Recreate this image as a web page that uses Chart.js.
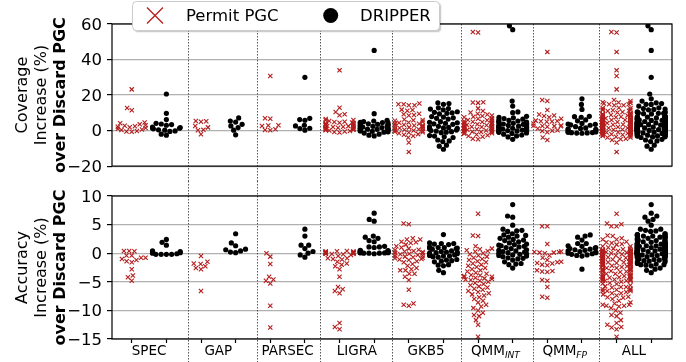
<!DOCTYPE html>
<html><head><meta charset="utf-8">
<script src="https://cdn.jsdelivr.net/npm/chart.js@4"></script>
<style>
html,body{margin:0;padding:0;background:#fff;}
#wrap{position:relative;width:686px;height:362px;overflow:hidden;}
canvas{position:absolute;left:0;}
#c1{top:0;} #c2{top:181px;}
</style></head><body>
<div id="wrap"><canvas id="c1" width="686" height="181"></canvas><canvas id="c2" width="686" height="181"></canvas></div>
<script>
// ---------------- data ----------------
const categories = ['SPEC','GAP','PARSEC','LIGRA','GKB5','QMM_INT','QMM_FP','ALL'];
const labelMain = ['SPEC','GAP','PARSEC','LIGRA','GKB5','QMM','QMM','ALL'];
const labelSub  = ['','','','','','INT','FP',''];
const seriesNames = ['Permit PGC','DRIPPER'];
const covTicks = [-20,0,20,40,60];
const accTicks = [-15,-10,-5,0,5,10];
const covTitle = ['Coverage','Increase (%)','over Discard PGC'];
const accTitle = ['Accuracy','Increase (%)','over Discard PGC'];

// Coverage increase (%) - Permit PGC
const covPermitSpec = [23.2, 12.7, 11.4, 4.5, 4.1, 3.5, 3.0, 2.7, 2.4, 2.1, 1.9, 1.5, 1.0, 0.6, 0.3, -0.2, -0.5, -0.7];
const covPermitGap = [5.4, 5.3, 5.0, 2.6, 1.8, 0.4, 0.2, -2.1];
const covPermitParsec = [30.7, 6.9, 6.7, 3.0, 2.8, 2.6, 0.7, 0.3, 0.2];
const covPermitLigra = [33.9, 12.9, 10.5, 9.2, 8.6, 6.5, 6.0, 5.8, 5.4, 5.0, 4.8, 4.5, 4.4, 4.2, 4.0, 3.8, 3.6, 3.5, 3.3, 3.1, 3.0, 2.8, 2.6, 2.5, 2.3, 2.2, 2.0, 1.8, 1.6, 1.4, 1.2, 1.0, 0.9, 0.7, 0.6, 0.4, 0.2, 0.0, -0.2, -0.5, -0.8, -1.1];
const covPermitGkb5 = [15.3, 14.8, 14.8, 14.2, 14.2, 11.8, 11.6, 11.2, 9.5, 9.2, 8.8, 8.5, 6.2, 6.0, 5.8, 5.5, 5.0, 4.6, 4.4, 4.0, 3.8, 3.5, 3.3, 3.0, 2.8, 2.5, 2.3, 2.0, 1.8, 1.5, 1.2, 1.0, 0.8, 0.5, 0.3, 0.0, -0.3, -0.6, -0.9, -1.1, -1.5, -2.0, -2.3, -3.0, -3.9, -6.7, -12.0];
const covPermitQmmInt = [55.5, 55.2, 16.0, 15.8, 15.6, 12.5, 11.0, 10.2, 9.5, 9.0, 8.5, 8.2, 7.8, 7.5, 7.0, 6.6, 6.3, 6.0, 5.8, 5.5, 5.3, 5.0, 4.8, 4.6, 4.4, 4.2, 4.0, 3.8, 3.6, 3.4, 3.2, 3.0, 2.8, 2.6, 2.4, 2.2, 2.0, 1.9, 1.8, 1.6, 1.4, 1.2, 1.0, 0.9, 0.8, 0.6, 0.4, 0.2, 0.1, 0.0, -0.2, -0.4, -0.6, -0.8, -1.0, -1.2, -1.5, -1.8, -2.2, -2.6, -3.0, -3.5, -4.6, -4.9];
const covPermitQmmFp = [44.3, 17.2, 16.6, 11.6, 9.1, 8.5, 8.2, 7.5, 6.7, 5.6, 5.4, 5.3, 5.1, 5.0, 4.0, 2.9, 2.7, 2.6, 2.5, 2.4, 2.2, 1.2, 0.2, -0.1, -0.3, -1.0, -3.9, -5.3];
// Coverage increase (%) - DRIPPER
const covDripperSpec = [20.6, 9.7, 6.2, 4.1, 3.7, 3.4, 3.0, 2.0, 1.7, 1.5, 1.3, 1.0, 0.4, 0.2, -0.2, -0.5, -2.0, -2.6];
const covDripperGap = [7.1, 5.4, 4.8, 3.5, 2.6, 1.7, 0.2, -2.4];
const covDripperParsec = [30.0, 6.9, 6.2, 5.8, 3.0, 2.6, 1.3, 1.1, 0.2];
const covDripperLigra = [45.1, 9.5, 5.8, 5.4, 5.0, 4.6, 4.5, 4.3, 4.0, 3.8, 3.5, 3.3, 3.0, 2.8, 2.6, 2.4, 2.2, 2.0, 1.8, 1.7, 1.5, 1.3, 1.1, 1.0, 0.8, 0.7, 0.5, 0.3, 0.2, 0.0, -0.2, -0.4, -0.7, -0.9, -1.4, -2.0, -2.6, -3.0];
const covDripperGkb5 = [15.6, 15.2, 14.8, 12.8, 12.4, 12.1, 11.7, 10.6, 10.3, 10.0, 9.7, 9.4, 7.9, 7.6, 7.2, 6.9, 6.5, 5.0, 4.7, 4.4, 4.1, 3.8, 3.5, 2.4, 2.1, 1.8, 1.5, 1.2, 0.9, 0.3, 0.0, -0.3, -0.6, -0.9, -1.2, -2.8, -3.1, -3.5, -3.9, -5.3, -5.8, -6.2, -8.2, -8.8, -10.5];
const covDripperQmmInt = [59.0, 56.8, 16.6, 13.8, 10.5, 10.1, 8.0, 7.5, 7.2, 6.8, 6.4, 6.0, 5.7, 5.4, 5.1, 4.8, 4.5, 4.3, 4.1, 3.9, 3.7, 3.5, 3.3, 3.1, 2.9, 2.7, 2.5, 2.3, 2.1, 1.9, 1.7, 1.5, 1.3, 1.1, 0.9, 0.7, 0.5, 0.3, 0.1, 0.0, -0.2, -0.4, -0.6, -0.8, -1.0, -1.3, -1.6, -2.0, -2.5, -3.0, -3.6, -4.9];
const covDripperQmmFp = [17.9, 14.7, 11.9, 8.0, 7.8, 7.5, 6.0, 5.5, 4.0, 3.7, 3.5, 3.2, 3.0, 2.2, 1.5, 1.2, 0.9, 0.7, 0.5, 0.2, -0.5, -0.8, -1.0, -1.1, -1.2, -1.3, -1.4, -1.5];

// Accuracy increase (%) - Permit PGC
const accPermitSpec = [0.4, 0.4, 0.35, -0.4, -0.4, -0.8, -0.8, -1.0, -1.2, -1.4, -1.6, -2.8, -3.9, -4.2, -4.8];
const accPermitGap = [-0.5, -1.5, -1.8, -1.9, -2.3, -2.6, -2.8, -6.6];
const accPermitParsec = [0.0, -0.6, -1.9, -4.1, -4.6, -4.8, -5.3, -9.2, -13.0];
const accPermitLigra = [0.4, 0.35, 0.3, 0.3, 0.25, 0.2, 0.2, 0.15, 0.1, 0.1, 0.05, 0.0, 0.0, 0.0, -0.05, -0.1, -0.1, -0.15, -0.2, -0.3, -0.5, -0.9, -0.9, -1.0, -1.1, -1.5, -1.8, -2.0, -2.3, -2.8, -4.1, -5.9, -6.3, -6.6, -7.0, -12.2, -12.9, -13.3];
const accPermitGkb5 = [5.2, 5.05, 2.6, 2.4, 2.4, 2.0, 1.9, 1.8, 1.5, 1.2, 1.0, 0.8, 0.6, 0.5, 0.4, 0.3, 0.2, 0.1, 0.0, 0.0, -0.1, -0.2, -0.3, -0.4, -0.5, -0.6, -0.7, -0.8, -0.9, -1.0, -1.1, -1.2, -1.4, -1.6, -1.9, -2.2, -2.6, -2.8, -3.0, -3.0, -3.6, -3.6, -4.1, -4.7, -6.4, -8.8, -9.0, -9.2];
const accPermitQmmInt = [6.9, 3.1, 3.0, 1.2, 0.8, 0.7, 0.5, 0.4, 0.3, 0.0, -0.2, -0.4, -0.6, -0.8, -1.0, -1.2, -1.4, -1.6, -1.8, -2.0, -2.2, -2.4, -2.6, -2.8, -3.0, -3.2, -3.4, -3.6, -3.8, -3.9, -4.0, -4.1, -4.2, -4.3, -4.4, -4.5, -4.6, -4.7, -4.8, -5.0, -5.2, -5.4, -5.6, -5.8, -6.0, -6.2, -6.4, -6.6, -6.8, -7.0, -7.2, -7.4, -7.7, -8.0, -8.3, -8.6, -9.0, -9.3, -9.6, -10.0, -10.4, -10.8, -11.0, -11.7, -12.5, -14.6];
const accPermitQmmFp = [4.7, 4.7, 1.6, 0.3, 0.2, 0.2, 0.1, 0.1, 0.0, -0.4, -0.8, -1.2, -1.5, -1.6, -1.7, -1.8, -2.0, -2.1, -3.0, -3.1, -3.2, -3.3, -4.7, -4.8, -5.9, -7.6, -7.8];
// Accuracy increase (%) - DRIPPER
const accDripperSpec = [2.4, 1.9, 1.4, 0.4, 0.3, 0.3, 0.1, 0.0, -0.2, -0.2, -0.2, -0.2, -0.1];
const accDripperGap = [3.4, 1.8, 1.3, 0.7, 0.6, 0.4, 0.2, 0.1];
const accDripperParsec = [4.2, 3.0, 1.4, 1.4, 0.8, 0.3, 0.0, -0.3, -0.7];
const accDripperLigra = [7.0, 5.9, 5.6, 3.0, 2.8, 2.6, 2.2, 2.0, 1.2, 1.1, 1.1, 1.0, 0.5, 0.45, 0.4, 0.35, 0.3, 0.3, 0.25, 0.2, 0.2, 0.15, 0.1, 0.1, 0.1, 0.05, 0.0, 0.0, 0.0, -0.1];
const accDripperGkb5 = [3.25, 1.8, 1.7, 1.7, 1.6, 1.5, 1.1, 1.0, 1.0, 0.9, 0.9, 0.8, 0.7, 0.4, 0.3, 0.2, 0.2, 0.1, 0.0, -0.1, -0.3, -0.4, -0.5, -0.5, -0.6, -0.7, -1.1, -1.2, -1.3, -1.4, -1.5, -2.0, -2.1, -2.2, -3.0, -3.4];
const accDripperQmmInt = [8.5, 6.5, 6.3, 4.9, 4.2, 4.0, 3.9, 3.8, 3.4, 3.2, 3.1, 3.0, 2.8, 2.6, 2.4, 2.3, 2.2, 2.0, 1.8, 1.6, 1.5, 1.4, 1.3, 1.2, 1.1, 1.0, 0.8, 0.6, 0.5, 0.4, 0.3, 0.2, 0.1, 0.0, -0.1, -0.2, -0.3, -0.4, -0.5, -0.6, -0.8, -0.9, -1.0, -1.2, -1.5, -1.8, -1.9, -2.0, -2.6];
const accDripperQmmFp = [3.2, 3.0, 2.8, 2.3, 1.7, 1.7, 1.3, 1.2, 1.0, 0.9, 0.8, 0.7, 0.6, 0.5, 0.4, 0.3, 0.2, 0.1, 0.0, -0.1, -0.2, -0.3, -0.4, -0.5, -2.8];

// "ALL" is the union of every suite
const covPermitAll = [].concat(covPermitSpec, covPermitGap, covPermitParsec, covPermitLigra, covPermitGkb5, covPermitQmmInt, covPermitQmmFp);
const covDripperAll = [].concat(covDripperSpec, covDripperGap, covDripperParsec, covDripperLigra, covDripperGkb5, covDripperQmmInt, covDripperQmmFp);
const accPermitAll = [].concat(accPermitSpec, accPermitGap, accPermitParsec, accPermitLigra, accPermitGkb5, accPermitQmmInt, accPermitQmmFp);
const accDripperAll = [].concat(accDripperSpec, accDripperGap, accDripperParsec, accDripperLigra, accDripperGkb5, accDripperQmmInt, accDripperQmmFp);

const covPermit = [covPermitSpec, covPermitGap, covPermitParsec, covPermitLigra, covPermitGkb5, covPermitQmmInt, covPermitQmmFp, covPermitAll];
const covDripper = [covDripperSpec, covDripperGap, covDripperParsec, covDripperLigra, covDripperGkb5, covDripperQmmInt, covDripperQmmFp, covDripperAll];
const accPermit = [accPermitSpec, accPermitGap, accPermitParsec, accPermitLigra, accPermitGkb5, accPermitQmmInt, accPermitQmmFp, accPermitAll];
const accDripper = [accDripperSpec, accDripperGap, accDripperParsec, accDripperLigra, accDripperGkb5, accDripperQmmInt, accDripperQmmFp, accDripperAll];

// ---------------- layout / style ----------------
const FONT = "'DejaVu Sans', 'Liberation Sans', sans-serif";
const RED = '#b41e1e';
const DIAM = 5.0;            // swarm collision diameter (px)
const HALF_WIDTH = 0.4;      // swarm half width (axis units)
const separatorPositions = [1.63, 3.61, 5.44, 7.51, 9.5, 11.6, 13.5];
const X_MIN = -0.57, X_MAX = 15.6;

function fmt(v){ return v < 0 ? '\u2212' + Math.abs(v) : String(v); }

function toPoints(groups, side){
  return groups.flatMap((vals, k) => vals.map(v => ({x: 2*k + side, y: v, g: k})));
}

function beeswarm(py, d, halfPx){
  const n = py.length;
  const order = [...Array(n).keys()].sort((a,b) => py[b] - py[a]);
  const placed = [];
  const off = new Array(n).fill(0);
  for (const i of order){
    const y = py[i];
    const nb = placed.filter(p => Math.abs(p.y - y) < d);
    const cands = [[0,0]];
    let leftFirst = true, k = 1;
    for (const p of nb){
      const dx = Math.sqrt(Math.max(d*d - (y - p.y)**2, 0)) * 1.05;
      const cl = p.x - dx, cr = p.x + dx;
      if (leftFirst){ cands.push([cl,k++],[cr,k++]); } else { cands.push([cr,k++],[cl,k++]); }
      leftFirst = !leftFirst;
    }
    cands.sort((a,b) => (Math.abs(a[0]) - Math.abs(b[0])) || (a[1] - b[1]));
    let x = 0;
    for (const [c] of cands){
      let ok = true;
      for (const p of nb){ if ((p.x - c)**2 + (p.y - y)**2 < d*d*0.999){ ok = false; break; } }
      if (ok){ x = c; break; }
    }
    placed.push({x, y});
    off[i] = x;
  }
  return off.map(o => Math.max(-halfPx, Math.min(halfPx, o)));
}

function applySwarm(chart){
  const xs = chart.scales.x, ys = chart.scales.y;
  const unit = xs.getPixelForValue(1) - xs.getPixelForValue(0);
  const halfPx = HALF_WIDTH * unit;
  chart.data.datasets.forEach((ds, side) => {
    const groups = {};
    ds.data.forEach((p, i) => { (groups[p.g] = groups[p.g] || []).push(i); });
    Object.values(groups).forEach(idxs => {
      const py = idxs.map(i => ys.getPixelForValue(ds.data[i].y));
      const off = beeswarm(py, DIAM, halfPx);
      idxs.forEach((i, j) => { ds.data[i].x = 2*ds.data[i].g + side + off[j]/unit; });
    });
  });
  chart.update('none');
}

function drawTitle(ctx, lines, yc){
  const xs = [26.5, 45.5, 65];
  lines.forEach((t, i) => {
    ctx.save();
    ctx.translate(xs[i], yc);
    ctx.rotate(-Math.PI/2);
    ctx.font = (i === 2 ? 'bold ' : '') + '16px ' + FONT;
    ctx.fillStyle = '#000';
    ctx.textAlign = 'center';
    ctx.textBaseline = 'alphabetic';
    ctx.fillText(t, 0, 0);
    ctx.restore();
  });
}

function drawLegend(ctx){
  const x0 = 132.5, y0 = 1.5, w = 307, h = 29, r = 4;
  ctx.save();
  ctx.shadowColor = 'rgba(0,0,0,0.25)';
  ctx.shadowOffsetX = 1.5; ctx.shadowOffsetY = 1.5; ctx.shadowBlur = 1.5;
  ctx.beginPath();
  ctx.roundRect(x0, y0, w, h, r);
  ctx.fillStyle = '#fff';
  ctx.fill();
  ctx.restore();
  ctx.save();
  ctx.beginPath();
  ctx.roundRect(x0, y0, w, h, r);
  ctx.strokeStyle = '#cccccc'; ctx.lineWidth = 1;
  ctx.stroke();
  const cy = 15.5;
  ctx.strokeStyle = RED; ctx.lineWidth = 1.3;
  ctx.beginPath();
  ctx.moveTo(147, cy - 8); ctx.lineTo(163, cy + 8);
  ctx.moveTo(147, cy + 8); ctx.lineTo(163, cy - 8);
  ctx.stroke();
  ctx.fillStyle = '#000';
  ctx.beginPath(); ctx.arc(330.7, cy, 7.5, 0, Math.PI*2); ctx.fill();
  ctx.font = '16.5px ' + FONT;
  ctx.textBaseline = 'middle'; ctx.textAlign = 'left';
  ctx.fillText(seriesNames[0], 186, cy + 1);
  ctx.fillText(seriesNames[1], 360, cy + 1);
  ctx.restore();
}

function drawCategoryLabels(chart){
  const ctx = chart.ctx, xs = chart.scales.x;
  const base = 174;
  ctx.save();
  ctx.fillStyle = '#000';
  ctx.textBaseline = 'alphabetic';
  categories.forEach((c, k) => {
    const cx = xs.getPixelForValue(2*k + 0.5);
    ctx.font = '13.5px ' + FONT;
    const wMain = ctx.measureText(labelMain[k]).width;
    let wSub = 0;
    if (labelSub[k]){ ctx.font = 'italic 9px ' + FONT; wSub = ctx.measureText(labelSub[k]).width; }
    const start = cx - (wMain + wSub)/2;
    ctx.font = '13.5px ' + FONT; ctx.textAlign = 'left';
    ctx.fillText(labelMain[k], start, base);
    if (labelSub[k]){ ctx.font = 'italic 9px ' + FONT; ctx.fillText(labelSub[k], start + wMain, base + 3); }
  });
  ctx.restore();
}

function decor(kind){
  return {
    id: 'decor_' + kind,
    afterDraw(chart){
      const ctx = chart.ctx, a = chart.chartArea, xs = chart.scales.x;
      ctx.save();
      ctx.strokeStyle = '#555'; ctx.lineWidth = 1; ctx.setLineDash([1.5, 1.5]);
      separatorPositions.forEach(s => {
        const x = Math.round(xs.getPixelForValue(s)) + 0.5;
        ctx.beginPath(); ctx.moveTo(x, kind === 'top' ? a.top : 0); ctx.lineTo(x, chart.height); ctx.stroke();
      });
      ctx.setLineDash([]);
      ctx.strokeStyle = '#000'; ctx.lineWidth = 1.2;
      ctx.strokeRect(a.left, a.top, a.right - a.left, a.bottom - a.top);
      ctx.restore();
      drawTitle(ctx, kind === 'top' ? covTitle : accTitle, (a.top + a.bottom)/2);
      if (kind === 'bottom') drawCategoryLabels(chart);
      if (kind === 'top') drawLegend(ctx);
    }
  };
}

function makeChart(canvas, permitGroups, dripperGroups, yMin, yMax, yTicks, kind){
  const isTop = kind === 'top';
  const xAxis = {
    type: 'linear', min: X_MIN, max: X_MAX, display: !isTop,
    afterBuildTicks(s){ s.ticks = [...Array(16).keys()].map(v => ({value: v})); },
    ticks: { callback: () => '', autoSkip: false, maxRotation: 0 },
    grid: { drawOnChartArea: false, drawTicks: true, tickLength: 4, tickColor: '#000', tickWidth: 1.2 },
    border: { display: false }
  };
  if (!isTop) xAxis.afterFit = (s) => { s.height = 23; };
  const chart = new Chart(canvas, {
    type: 'scatter',
    data: { datasets: [
      { label: seriesNames[0], data: toPoints(permitGroups, 0), pointStyle: 'crossRot', pointRadius: 3,
        pointHoverRadius: 3, borderColor: RED, backgroundColor: RED, pointBorderWidth: 1.1 },
      { label: seriesNames[1], data: toPoints(dripperGroups, 1), pointStyle: 'circle', pointRadius: 2.6,
        pointHoverRadius: 2.6, borderColor: '#000', backgroundColor: '#000', pointBorderWidth: 0 }
    ]},
    options: {
      responsive: false, animation: false, events: [],
      layout: { padding: isTop ? {left: 0, right: 14, top: 24, bottom: 13} : {left: 0, right: 14, top: 15, bottom: 0} },
      plugins: { legend: {display: false}, tooltip: {enabled: false} },
      scales: {
        x: xAxis,
        y: {
          min: yMin, max: yMax,
          afterBuildTicks(s){ s.ticks = yTicks.map(v => ({value: v})); },
          afterFit(s){ s.width = 112; },
          ticks: { font: {family: FONT, size: 16.5}, color: '#000', padding: 5, labelOffset: 1.5, callback: v => fmt(v) },
          grid: { color: '#b0b0b0', lineWidth: 1.2, tickLength: 5, tickColor: '#000', tickWidth: 1.2 },
          border: { display: false }
        }
      }
    },
    plugins: [decor(kind)]
  });
  applySwarm(chart);
  return chart;
}

makeChart(document.getElementById('c1'), covPermit, covDripper, -20, 60, covTicks, 'top');
makeChart(document.getElementById('c2'), accPermit, accDripper, -15, 10, accTicks, 'bottom');
</script>
</body></html>
